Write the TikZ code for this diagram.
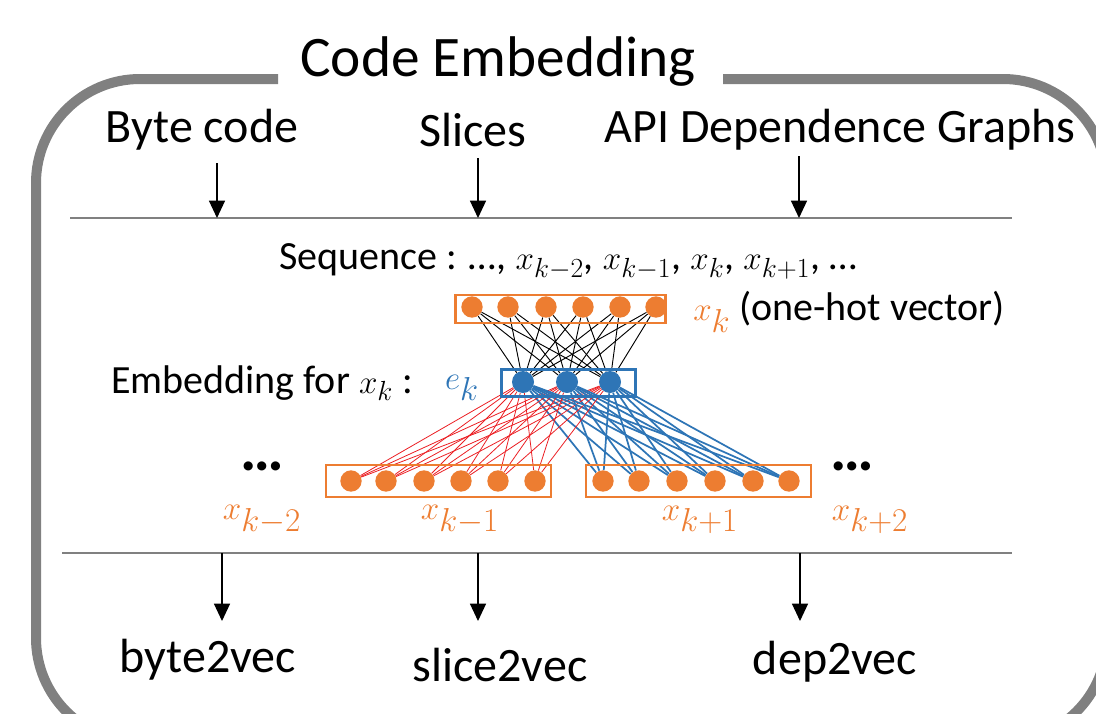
\documentclass[tikz,border=0pt]{standalone}
\usepackage{fontspec}
\setmainfont{Carlito}
\renewcommand\defaultscriptratio{.76}
\usetikzlibrary{arrows.meta,positioning,backgrounds}
\definecolor{frame}{RGB}{128,128,128}
\definecolor{hot}{RGB}{237,125,49}
\definecolor{emb}{RGB}{46,117,182}
\definecolor{ctx}{RGB}{235,30,35}
\tikzset{
  box/.style={draw=frame, line width=7.5pt, rounded corners=78pt},
  title/.style={font=\fontsize{43}{48}\selectfont, inner sep=0pt},
  head/.style={font=\fontsize{36}{42}\selectfont, inner sep=0pt},
  txt/.style={font=\fontsize{30}{36}\selectfont, inner sep=0pt},
  rule/.style={draw=frame, line width=1pt},
  down/.style={draw=black, line width=1pt, -{Triangle[length=13pt,width=12pt]}},
  % vectors
  vec/.style={draw=hot, line width=2.2pt, inner sep=0pt},
  evec/.style={draw=emb, line width=2pt, inner sep=0pt},
  hotdot/.style={circle, fill=hot, inner sep=0pt, minimum size=16pt},
  embdot/.style={circle, fill=emb, inner sep=0pt, minimum size=16.5pt},
  inw/.style={draw=black, line width=0.7pt},
  outl/.style={draw=ctx, line width=0.6pt},
  outr/.style={draw=emb, line width=1.3pt},
  lab/.style={font=\fontsize{34}{40}\selectfont, text=hot, inner sep=0pt},
  more/.style={font=\fontsize{46}{50}\selectfont\bfseries, inner sep=0pt}
}

\begin{document}
\begin{tikzpicture}[x=0.75pt, y=-0.75pt]
  \useasboundingbox (0,0) rectangle (1096,714);

  % outer frame, open at the top for the title
  \draw[box] (278,79) -- (36,79) -- (36,742) -- (1107,742) -- (1107,79) -- (723,79);
  \node[title] (title) at (498,62) {Code Embedding};

  % inputs
  \node[head] (bytecode) at (202,130) {Byte code};
  \node[head] (slices)   at (473,130) {Slices};
  \node[head] (apigraph) at (840,130) {API Dependence Graphs};
  \coordinate (inl) at (70,218);
  \coordinate (inr) at (1012,218);
  \draw[rule] (inl) -- (inr);
  \coordinate (bytetop) at (217,163); \coordinate (bytebot) at (217,218);
  \coordinate (slicetop) at (478,158); \coordinate (slicebot) at (478,218);
  \coordinate (apitop) at (799,156);  \coordinate (apibot) at (799,218);
  \draw[down] (bytetop) -- (bytebot);
  \draw[down] (slicetop) -- (slicebot);
  \draw[down] (apitop) -- (apibot);

  \node[txt] (seq) at (568,262)
    {Sequence : \dots, $x_{k-2}$, $x_{k-1}$, $x_k$, $x_{k+1}$, \dots};

  % one-hot vector x_k
  \node[vec, minimum width=157.5pt, minimum height=21pt] (onehot) at (560.5,309) {};
  \foreach \i/\x in {1/472,2/508,3/546,4/583,5/620,6/656}
    \node[hotdot] (t\i) at (\x,307) {};
  \node[txt, anchor=west] (onehotlab) at (693,312)
    {\textcolor{hot}{\fontsize{34}{40}\selectfont$x_k$} (one-hot vector)};

  % embedding e_k
  \node[txt] (embfor) at (262,383) {Embedding for $x_k$ :};
  \node[evec, minimum width=100.5pt, minimum height=20pt] (embbox) at (568.5,383) {};
  \foreach \j/\x in {1/523,2/567,3/610}
    \node[embdot] (e\j) at (\x,382) {};
  \node[lab, text=emb] (emblab) at (462,388) {$e_k$};

  % context vectors
  \node[vec, minimum width=168.75pt, minimum height=24pt] (prevbox) at (438.5,481) {};
  \node[vec, minimum width=168.75pt, minimum height=24pt] (nextbox) at (698.5,481) {};
  \foreach \i/\x in {1/351,2/386,3/424,4/461,5/498,6/535}
    \node[hotdot] (p\i) at (\x,481) {};
  \foreach \i/\x in {1/603,2/639,3/677,4/715,5/753,6/789}
    \node[hotdot] (n\i) at (\x,481) {};

  \begin{scope}[on background layer]
    \foreach \i in {1,...,6}
      \foreach \j in {1,2,3} {
        \draw[inw] (t\i) -- (e\j);
        \draw[outl] (e\j) -- (p\i);
        \draw[outr] (e\j) -- (n\i);
      }
  \end{scope}

  \node[more] (dotsl) at (262,466) {\dots};
  \node[more] (dotsr) at (852,466) {\dots};
  \node[lab] (lkm2) at (262,520) {$x_{k-2}$};
  \node[lab] (lkm1) at (460,520) {$x_{k-1}$};
  \node[lab] (lkp1) at (700,520) {$x_{k+1}$};
  \node[lab] (lkp2) at (870,520) {$x_{k+2}$};

  % outputs
  \coordinate (outl) at (62,553);
  \coordinate (outr) at (1012,553);
  \draw[rule] (outl) -- (outr);
  \coordinate (bytesrc) at (222,553);  \coordinate (byteto) at (222,621);
  \coordinate (slicesrc) at (478,553); \coordinate (sliceto) at (478,621);
  \coordinate (depsrc) at (800,553);   \coordinate (depto) at (800,621);
  \draw[down] (bytesrc) -- (byteto);
  \draw[down] (slicesrc) -- (sliceto);
  \draw[down] (depsrc) -- (depto);
  \node[head] (byte2vec)  at (208,660) {byte2vec};
  \node[head] (slice2vec) at (500,665) {slice2vec};
  \node[head] (dep2vec)   at (835,662) {dep2vec};
\end{tikzpicture}
\end{document}
